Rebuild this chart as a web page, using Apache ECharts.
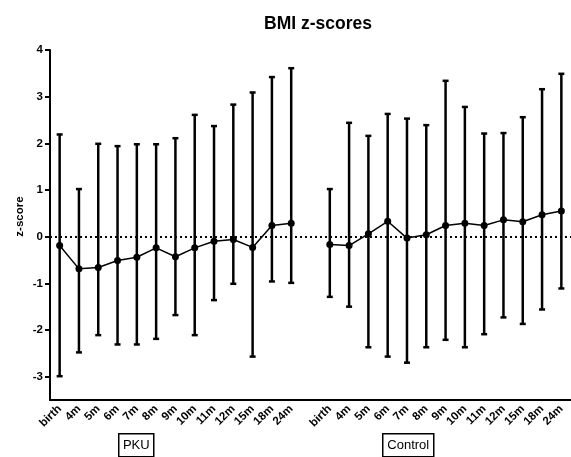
<!DOCTYPE html>
<html>
<head>
<meta charset="utf-8">
<script src="https://cdn.jsdelivr.net/npm/echarts@6/dist/echarts.min.js"></script>
<style>
  html, body { margin: 0; padding: 0; background: #fff; }
  #chart { width: 571px; height: 457px; }
</style>
</head>
<body>
<div id="chart"></div>
<script>
// time points per group
const timepoints = ["birth", "4m", "5m", "6m", "7m", "8m", "9m", "10m", "11m", "12m", "15m", "18m", "24m"];

// PKU group: mean and error bar ends
const pkuMean = [-0.19, -0.69, -0.66, -0.51, -0.44, -0.24, -0.43, -0.24, -0.10, -0.06, -0.23, 0.24, 0.29];
const pkuUpper = [2.19, 1.02, 1.99, 1.94, 1.98, 1.98, 2.11, 2.61, 2.37, 2.83, 3.09, 3.42, 3.61];
const pkuLower = [-2.99, -2.48, -2.11, -2.31, -2.31, -2.19, -1.68, -2.11, -1.36, -1.01, -2.57, -0.96, -0.99];

// Control group
const ctlMean = [-0.17, -0.19, 0.06, 0.33, -0.03, 0.04, 0.24, 0.29, 0.24, 0.36, 0.32, 0.47, 0.55];
const ctlUpper = [1.02, 2.44, 2.16, 2.63, 2.53, 2.39, 3.34, 2.78, 2.21, 2.22, 2.56, 3.16, 3.49];
const ctlLower = [-1.29, -1.50, -2.37, -2.57, -2.70, -2.37, -2.21, -2.37, -2.09, -1.73, -1.87, -1.56, -1.11];

const yTicks = [-3, -2, -1, 0, 1, 2, 3, 4];

// one empty slot between the two groups
const categories = [...timepoints, "", ...timepoints];
const ctlOffset = timepoints.length + 1;

const pkuLine = pkuMean.map((v, i) => [i, v]);
const ctlLine = ctlMean.map((v, i) => [i + ctlOffset, v]);
const bars = [
  ...pkuMean.map((v, i) => [i, pkuLower[i], pkuUpper[i]]),
  ...ctlMean.map((v, i) => [i + ctlOffset, ctlLower[i], ctlUpper[i]]),
];

const font = "Liberation Sans, Arial, sans-serif";

function renderErrorBar(params, api) {
  const x = api.value(0);
  const lo = api.coord([x, api.value(1)]);
  const hi = api.coord([x, api.value(2)]);
  const cap = 3;
  const style = { stroke: "#000", lineWidth: 2.5 };
  return {
    type: "group",
    children: [
      { type: "line", shape: { x1: lo[0], y1: lo[1], x2: hi[0], y2: hi[1] }, style },
      { type: "line", shape: { x1: hi[0] - cap, y1: hi[1], x2: hi[0] + cap, y2: hi[1] }, style },
      { type: "line", shape: { x1: lo[0] - cap, y1: lo[1], x2: lo[0] + cap, y2: lo[1] }, style },
    ],
  };
}

function groupBox(label, x, w) {
  return {
    type: "group",
    left: x,
    top: 433,
    children: [
      { type: "rect", shape: { x: 0, y: 0, width: w, height: 23 }, style: { fill: "#fff", stroke: "#000", lineWidth: 1.5 } },
      { type: "text", x: w / 2, y: 12, style: { text: label, fill: "#000", font: "13px " + font, align: "center", verticalAlign: "middle" } },
    ],
  };
}

const chart = echarts.init(document.getElementById("chart"));
chart.setOption({
  animation: false,
  title: {
    text: "BMI z-scores",
    left: 259,
    top: 10,
    textStyle: { fontFamily: font, fontWeight: "bold", fontSize: 17.5, color: "#000" },
  },
  grid: { left: 50, top: 50, height: 350, width: 526.5 },
  xAxis: {
    type: "category",
    data: categories,
    boundaryGap: true,
    axisLine: { onZero: false, lineStyle: { color: "#000", width: 2 } },
    axisTick: { alignWithLabel: true, interval: 0, length: 5, lineStyle: { color: "#000", width: 2 } },
    axisLabel: { interval: 0, rotate: 45, margin: 7, color: "#000", fontFamily: font, fontWeight: "bold", fontSize: 11.5 },
  },
  yAxis: {
    type: "value",
    min: -3.5,
    max: 4,
    axisLine: { show: true, lineStyle: { color: "#000", width: 2 } },
    axisTick: { show: true, length: 5, customValues: yTicks, lineStyle: { color: "#000", width: 2 } },
    axisLabel: { customValues: yTicks, margin: 7, color: "#000", fontFamily: font, fontWeight: "bold", fontSize: 11.5 },
    splitLine: { show: false },
  },
  series: [
    {
      type: "custom",
      renderItem: renderErrorBar,
      data: bars,
      encode: { x: 0, y: [1, 2] },
      z: 2,
    },
    {
      type: "line",
      data: pkuLine,
      symbol: "circle",
      symbolSize: 7,
      itemStyle: { color: "#000" },
      lineStyle: { color: "#000", width: 1.5 },
      z: 3,
      markLine: {
        silent: true,
        symbol: "none",
        label: { show: false },
        lineStyle: { color: "#000", width: 2, type: [2, 3] },
        data: [{ yAxis: 0 }],
      },
    },
    {
      type: "line",
      data: ctlLine,
      symbol: "circle",
      symbolSize: 7,
      itemStyle: { color: "#000" },
      lineStyle: { color: "#000", width: 1.5 },
      z: 3,
    },
  ],
  graphic: [
    {
      type: "text",
      x: 19.5,
      y: 216.5,
      rotation: Math.PI / 2,
      style: { text: "z-score", fill: "#000", font: "bold 11.5px " + font, align: "center", verticalAlign: "middle" },
    },
    groupBox("PKU", 118, 35),
    groupBox("Control", 382, 51),
  ],
});
</script>
</body>
</html>
